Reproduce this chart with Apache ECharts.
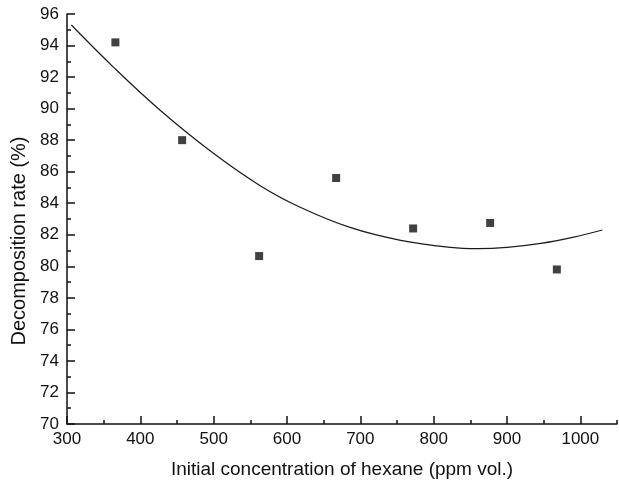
<!DOCTYPE html>
<html>
<head>
<meta charset="utf-8">
<script src="https://cdn.jsdelivr.net/npm/echarts@6/dist/echarts.min.js"></script>
<style>
  html, body { margin: 0; padding: 0; background: #fff; }
  #chart { width: 619px; height: 484px; }
</style>
</head>
<body>
<div id="chart"></div>
<script>
// Measured decomposition rate vs. initial hexane concentration
const concentration = [366, 457, 562, 667, 772, 877, 968];
const decomposition = [94.2, 88.0, 80.65, 85.6, 82.4, 82.75, 79.8];

// Points along the fitted trend curve
const fitX = [306, 364, 427, 496, 564, 618, 687, 755, 823, 860, 900, 946, 991, 1030];
const fitY = [95.3, 92.6, 89.9, 87.3, 85.1, 83.75, 82.45, 81.65, 81.2, 81.12, 81.2, 81.45, 81.85, 82.3];

// Axis ticks
const xMajorTicks = [300, 400, 500, 600, 700, 800, 900, 1000];
const xMinorTicks = [350, 450, 550, 650, 750, 850, 950, 1050];

const ink = '#111';
const font = 'Liberation Sans, Arial, sans-serif';

const chart = echarts.init(document.getElementById('chart'), null, { renderer: 'canvas' });

const points = concentration.map((x, i) => [x, decomposition[i]]);
const curve = fitX.map((x, i) => [x, fitY[i]]);

chart.setOption({
  animation: false,
  backgroundColor: '#fff',
  grid: { left: 67, right: 2, top: 14, bottom: 60, containLabel: false },
  xAxis: [
    {
      type: 'value',
      min: 300,
      max: 1050,
      interval: 100,
      name: 'Initial concentration of hexane (ppm vol.)',
      nameLocation: 'middle',
      nameGap: 36,
      nameTextStyle: { fontFamily: font, fontSize: 19, color: ink },
      axisLine: { show: true, lineStyle: { color: ink, width: 1.5 } },
      axisTick: { show: true, inside: true, length: 8, customValues: xMajorTicks, lineStyle: { color: ink, width: 1.5 } },
      axisLabel: {
        customValues: xMajorTicks,
        formatter: v => String(v),
        fontFamily: font, fontSize: 17, color: ink, margin: 7
      },
      splitLine: { show: false }
    },
    {
      // minor ticks only
      type: 'value',
      position: 'bottom',
      min: 300,
      max: 1050,
      interval: 50,
      axisLine: { show: false },
      axisTick: { show: true, inside: true, length: 4, customValues: xMinorTicks, lineStyle: { color: ink, width: 1.5 } },
      axisLabel: { show: false },
      splitLine: { show: false }
    }
  ],
  yAxis: {
    type: 'value',
    min: 70,
    max: 96,
    interval: 2,
    name: 'Decomposition rate (%)',
    nameLocation: 'middle',
    nameGap: 38,
    nameTextStyle: { fontFamily: font, fontSize: 20, color: ink, padding: [0, 44, 0, 0] },
    axisLine: { show: true, lineStyle: { color: ink, width: 1.5 } },
    axisTick: { show: true, inside: true, length: 8, lineStyle: { color: ink, width: 1.5 } },
    minorTick: { show: true, splitNumber: 2, length: 4, lineStyle: { color: ink, width: 1.5 } },
    axisLabel: { fontFamily: font, fontSize: 17, color: ink, margin: 8 },
    splitLine: { show: false },
    minorSplitLine: { show: false }
  },
  series: [
    {
      type: 'line',
      data: curve,
      smooth: 0.4,
      symbol: 'none',
      lineStyle: { color: '#1a1a1a', width: 1.2 },
      z: 2
    },
    {
      type: 'scatter',
      data: points,
      symbol: 'rect',
      symbolSize: 8,
      itemStyle: { color: ink },
      z: 3
    }
  ]
});
</script>
</body>
</html>
